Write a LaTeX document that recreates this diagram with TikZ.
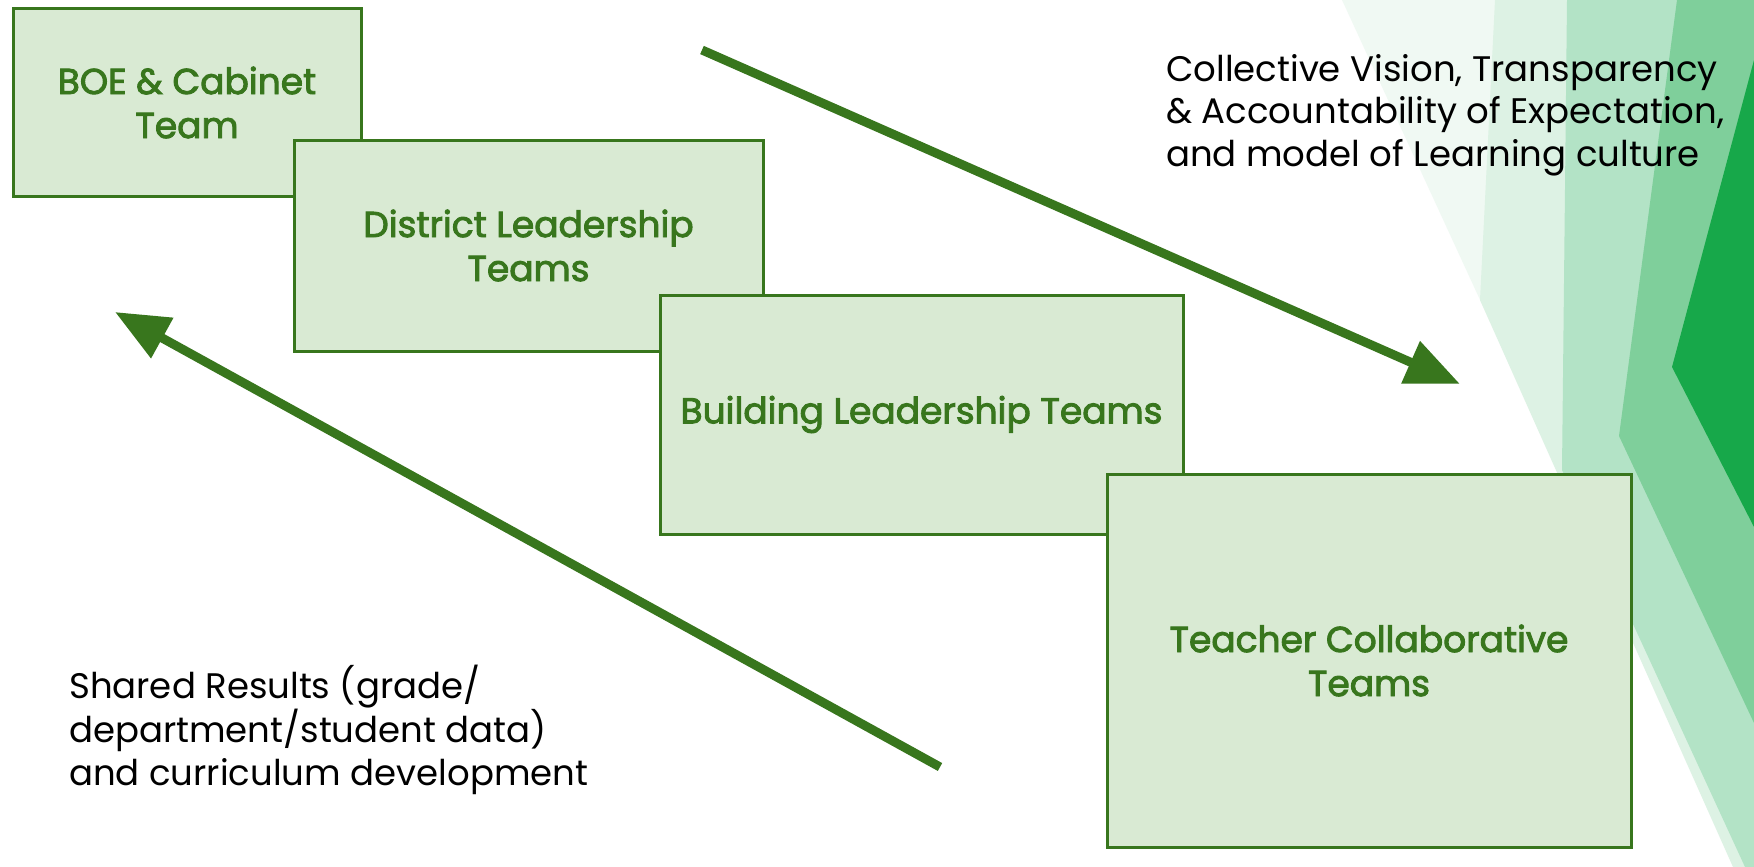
\documentclass[tikz,border=0pt]{standalone}
\usepackage{fontspec}
\setmainfont{Poppins}
\newfontfamily\boxfont[FakeBold=2.5]{Poppins}
\usetikzlibrary{arrows.meta}
\definecolor{boxfill}{HTML}{D9EAD3}
\definecolor{boxline}{HTML}{38761D}
\definecolor{facetP}{HTML}{F0F9F3}
\definecolor{facetV}{HTML}{DDF2E4}
\definecolor{facetL}{HTML}{B3E3C6}
\definecolor{facetM}{HTML}{7FCF9B}
\definecolor{facetD}{HTML}{17A84A}
\begin{document}
\begin{tikzpicture}[x=1pt,y=-1pt,
  box/.style={draw=boxline, line width=3pt, fill=boxfill, text=boxline, align=center,
    font=\boxfont\fontsize{36}{44}\selectfont, inner sep=0pt},
  flow/.style={draw=boxline, line width=9pt, -{Triangle[length=54pt,width=44pt]}},
  note/.style={text=black, align=left, font=\fontsize{35.5}{42.5}\selectfont, inner sep=0pt}]
\useasboundingbox (0,0) rectangle (1754,867);
\fill[white] (0,0) rectangle (1754,867);
% right-hand facets
\fill[facetP] (1342,0) -- (1754,0) -- (1754,867) -- (1741,867) -- cycle;
\fill[facetV] (1495,0) -- (1754,0) -- (1754,867) -- (1733,867) -- (1480,300) -- cycle;
\fill[facetL] (1567,0) -- (1754,0) -- (1754,867) -- (1745,867) -- (1562,470) -- cycle;
\fill[facetM] (1677,0) -- (1754,0) -- (1754,723) -- (1619,436) -- cycle;
\fill[facetD] (1754,60) -- (1672,367) -- (1754,527) -- cycle;
% boxes
\node[box, minimum width=348pt, minimum height=187pt] (boe) at (187,102.5) {BOE \& Cabinet\\Team};
\node[box, minimum width=469pt, minimum height=211pt] (dist) at (528.5,245.5) {District Leadership\\Teams};
\node[box, minimum width=523pt, minimum height=239pt] (bldg) at (921.5,414.5) {Building Leadership Teams};
\node[box, minimum width=524pt, minimum height=373pt] (teach) at (1369,660.5) {Teacher Collaborative\\Teams};
% notes
\node[note, anchor=north west] (top) at (1166,54) {Collective Vision, Transparency\\\& Accountability of Expectation,\\and model of Learning culture};
\node[note, anchor=north west] (bot) at (69,665) {Shared Results (grade/\\department/student data)\\and curriculum development};
% arrows
\coordinate (d1) at (702,50);
\coordinate (d2) at (1460,384);
\coordinate (u1) at (940,767);
\coordinate (u2) at (115,312);
\draw[flow] (d1) -- (d2);
\draw[flow] (u1) -- (u2);
\end{tikzpicture}
\end{document}
